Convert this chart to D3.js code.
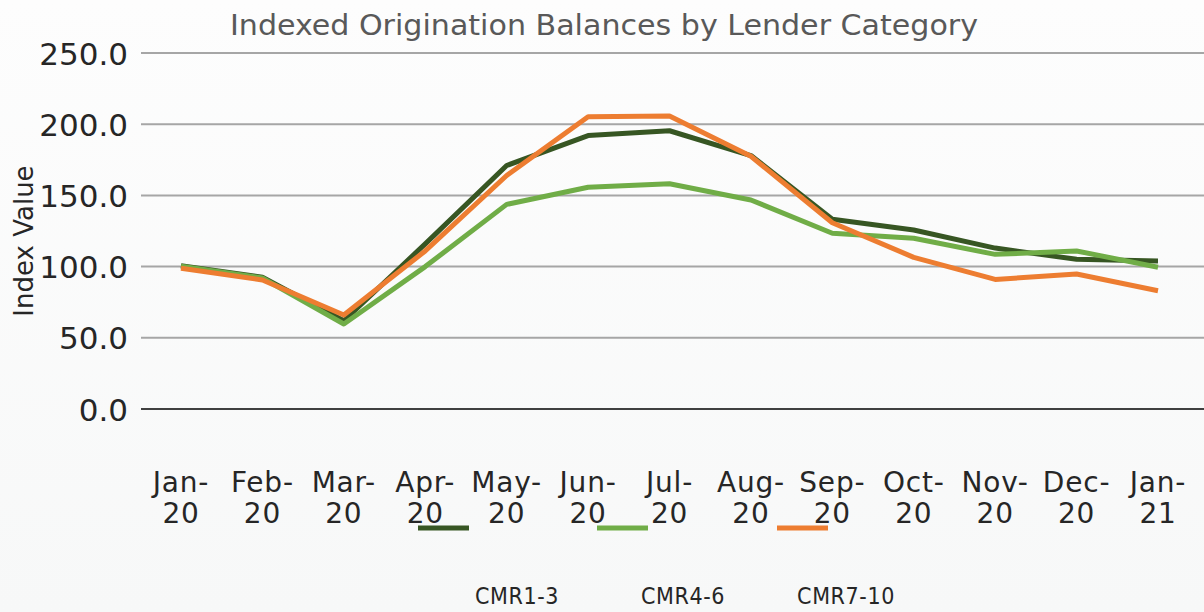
<!DOCTYPE html>
<html><head><meta charset="utf-8">
<script src="https://cdn.jsdelivr.net/npm/d3@7"></script>
<style>html,body{margin:0;padding:0;background:#fbfcfc;overflow:hidden}</style>
</head><body>
<svg id="c" width="1204" height="612"></svg>
<script>
const categories = ["Jan-20","Feb-20","Mar-20","Apr-20","May-20","Jun-20","Jul-20","Aug-20","Sep-20","Oct-20","Nov-20","Dec-20","Jan-21"];
const cmr13 = [100.6, 92.5, 62, 116, 171, 192, 195.4, 178, 133.2, 125.7, 113, 105.1, 104];
const cmr46 = [100.2, 92, 59.7, 100, 143.7, 155.7, 158.2, 146.8, 123.4, 119.9, 108.6, 111, 99.5];
const cmr710 = [98.8, 90.6, 66, 111, 164, 205.3, 205.8, 177.5, 130.8, 106.5, 91, 94.8, 83];
const yTicks = [0, 50, 100, 150, 200, 250];
const seriesNames = ["CMR1-3","CMR4-6","CMR7-10"];
const colors = ["#375623","#70ad47","#ed7d31"];

const svg = d3.select("#c");
const defs = svg.append("defs");
const g0 = defs.append("linearGradient").attr("id","bg").attr("x1",0).attr("y1",0).attr("x2",0).attr("y2",1);
g0.append("stop").attr("offset","0").attr("stop-color","#fdfdfd");
g0.append("stop").attr("offset","1").attr("stop-color","#f7f8f8");
svg.append("rect").attr("width",1204).attr("height",612).attr("fill","url(#bg)");

const x = d3.scalePoint().domain(categories).range([181, 1158]);
const y = d3.scaleLinear().domain([0, 250]).range([409, 53]);

// gridlines
svg.append("g").selectAll("line").data(yTicks).join("line")
  .attr("x1", 141).attr("x2", 1204)
  .attr("y1", d => y(d)).attr("y2", d => y(d))
  .attr("stroke", d => d === 0 ? "#404040" : "#a6a6a6")
  .attr("stroke-width", 2);

// y axis labels
const yAxis = d3.axisLeft(y).tickValues(yTicks).tickFormat(d3.format(".1f")).tickSize(0).tickPadding(0);
const ya = svg.append("g").attr("transform","translate(128,0)").call(yAxis);
ya.select(".domain").remove();
ya.selectAll("text").attr("font-family","DejaVu Sans").attr("font-size",31).attr("fill","#262626").attr("dy","0.36em");

// x labels (two lines)
const xa = svg.append("g");
categories.forEach(c => {
  const [m, yr] = c.split("-");
  const t = xa.append("text").attr("x", x(c)).attr("text-anchor","middle")
    .attr("font-family","DejaVu Sans").attr("font-size",28).attr("letter-spacing",0.8).attr("fill","#262626");
  t.append("tspan").attr("x", x(c)).attr("y", 492).text(m + "-");
  t.append("tspan").attr("x", x(c)).attr("y", 523).text(yr);
});

// lines
const line = d3.line().x((d,i) => x(categories[i])).y(d => y(d));
[cmr13, cmr46, cmr710].forEach((s, i) => {
  svg.append("path").datum(s).attr("d", line).attr("fill","none")
    .attr("stroke", colors[i]).attr("stroke-width", 5).attr("stroke-linejoin","round");
});

// title
svg.append("text").attr("x", 604).attr("y", 35).attr("text-anchor","middle")
  .attr("font-family","DejaVu Sans Condensed, DejaVu Sans").attr("font-size",28)
  .attr("fill","#595959").attr("textLength",748).attr("lengthAdjust","spacingAndGlyphs")
  .text("Indexed Origination Balances by Lender Category");

// y title
svg.append("text").attr("transform","translate(33,241) rotate(-90)").attr("text-anchor","middle")
  .attr("font-family","DejaVu Sans").attr("font-size",26).attr("fill","#262626")
  .text("Index Value");

// legend
const legX = [418, 597, 777];
const legLabelX = [517, 683, 846];
seriesNames.forEach((n, i) => {
  svg.append("line").attr("x1", legX[i]).attr("x2", legX[i] + 51).attr("y1", 528).attr("y2", 528)
    .attr("stroke", colors[i]).attr("stroke-width", 5);
  svg.append("text").attr("x", legLabelX[i]).attr("y", 604).attr("text-anchor","middle")
    .attr("font-family","DejaVu Sans Condensed, DejaVu Sans").attr("font-size",23).attr("letter-spacing",0.6)
    .attr("fill","#262626")
    .text(n);
});
</script>
</body></html>
